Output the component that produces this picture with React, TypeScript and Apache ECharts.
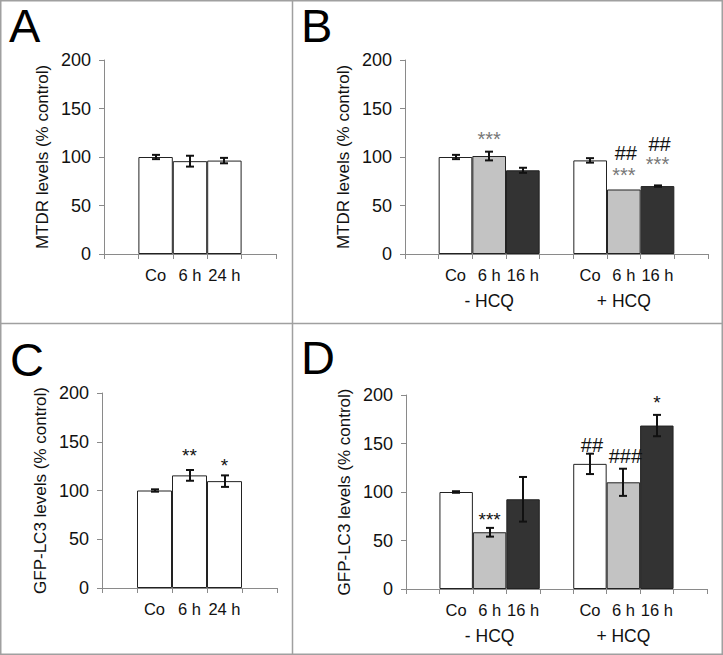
import React, { useEffect, useRef } from "react";
import * as echarts from "echarts";

// ---- categories / labels ----
const singleCats = ["", "Co", "6 h", "24 h", ""];
const groupCats = ["", "Co", "6 h", "16 h", "", "Co", "6 h", "16 h", ""];
const groupNames = ["", "", "- HCQ", "", "", "", "+ HCQ", "", ""];
const singleConds = ["", "co", "co", "co", ""];
const groupConds = ["", "co", "t6", "t16", "", "co", "t6", "t16", ""];
const yMin = 0;
const yMax = 200;
const yStep = 50;

// ---- values (mean, SD) ----
const mtdrSingleMean = [null, 100, 95.7, 96.3, null];
const mtdrSingleErr = [null, 2.2, 5.6, 2.8, null];
const mtdrHcqMean = [null, 100, 101, 86.3, null, 96.5, 66.5, 70, null];
const mtdrHcqErr = [null, 2.2, 4.5, 2.6, null, 2.3, 0, 0.7, null];
const lc3SingleMean = [null, 100, 115.5, 109.6, null];
const lc3SingleErr = [null, 1.2, 5.5, 5.9, null];
const lc3HcqMean = [null, 100, 58.5, 92.5, null, 129, 110, 168.5, null];
const lc3HcqErr = [null, 0.8, 4.5, 23, null, 10.5, 14, 11, null];

// ---- significance marks: [category, value, text] ----
const mtdrHcqMarks: [number, number, string][] = [
  [2, 119, "***"],
  [6, 104, "##"],
  [6, 81.4, "***"],
  [7, 113.4, "##"],
  [7, 92.8, "***"],
];
const lc3SingleMarks: [number, number, string][] = [
  [2, 135.8, "**"],
  [3, 125.5, "*"],
];
const lc3HcqMarks: [number, number, string][] = [
  [2, 71.6, "***"],
  [5, 148, "##"],
  [6, 136.8, "###"],
  [7, 192.5, "*"],
];

const FONT = "'Liberation Sans', Arial, Helvetica, sans-serif";
const condColor: Record<string, string> = { co: "#ffffff", t6: "#c3c3c3", t16: "#333333" };
const AXIS = "#8a8a8a";

type Panel = {
  letter: string;
  title: string;
  cats: string[];
  conds: string[];
  mean: (number | null)[];
  err: (number | null)[];
  marks: [number, number, string][];
  grid: { left: number; top: number; width: number; height: number };
  letterPos: [number, number];
  groups: boolean;
  grayStars: boolean;
};

const panels: Panel[] = [
  {
    letter: "A", title: "MTDR levels (% control)", cats: singleCats, conds: singleConds,
    mean: mtdrSingleMean, err: mtdrSingleErr, marks: [],
    grid: { left: 104, top: 60, width: 172, height: 194 }, letterPos: [9, 2], groups: false, grayStars: false,
  },
  {
    letter: "B", title: "MTDR levels (% control)", cats: groupCats, conds: groupConds,
    mean: mtdrHcqMean, err: mtdrHcqErr, marks: mtdrHcqMarks,
    grid: { left: 405, top: 60, width: 303, height: 194 }, letterPos: [301, 2], groups: true, grayStars: true,
  },
  {
    letter: "C", title: "GFP-LC3 levels (% control)", cats: singleCats, conds: singleConds,
    mean: lc3SingleMean, err: lc3SingleErr, marks: lc3SingleMarks,
    grid: { left: 102, top: 393, width: 175, height: 195 }, letterPos: [10, 336], groups: false, grayStars: false,
  },
  {
    letter: "D", title: "GFP-LC3 levels (% control)", cats: groupCats, conds: groupConds,
    mean: lc3HcqMean, err: lc3HcqErr, marks: lc3HcqMarks,
    grid: { left: 406, top: 395, width: 301, height: 194 }, letterPos: [301, 334], groups: true, grayStars: false,
  },
];

function buildOption() {
  const grid: any[] = [];
  const xAxis: any[] = [];
  const yAxis: any[] = [];
  const series: any[] = [];
  const graphic: any[] = [
    { type: "rect", shape: { x: 0.75, y: 0.75, width: 721.5, height: 653.5 }, style: { fill: "none", stroke: "#a0a0a0", lineWidth: 1.5 } },
    { type: "line", shape: { x1: 292.5, y1: 0, x2: 292.5, y2: 655 }, style: { stroke: "#a0a0a0", lineWidth: 1.5 } },
    { type: "line", shape: { x1: 0, y1: 323.5, x2: 723, y2: 323.5 }, style: { stroke: "#a0a0a0", lineWidth: 1.5 } },
  ];

  panels.forEach((p, gi) => {
    grid.push({ ...p.grid, containLabel: false });
    const xi = xAxis.length;
    xAxis.push({
      type: "category", gridIndex: gi, data: p.cats, boundaryGap: true,
      axisLine: { show: true, lineStyle: { color: AXIS, width: 1 } },
      axisTick: { show: true, length: 5, alignWithLabel: false, interval: 0, lineStyle: { color: AXIS } },
      axisLabel: { interval: 0, margin: 12, color: "#111", fontSize: 16.5, fontFamily: FONT },
      splitLine: { show: false },
    });
    if (p.groups) {
      xAxis.push({
        type: "category", gridIndex: gi, data: groupNames, position: "bottom", boundaryGap: true,
        axisLine: { show: false }, axisTick: { show: false },
        axisLabel: { interval: 0, margin: 38, color: "#111", fontSize: 17.5, fontFamily: FONT },
      });
    }
    const yi = yAxis.length;
    yAxis.push({
      type: "value", gridIndex: gi, min: yMin, max: yMax, interval: yStep,
      name: p.title, nameLocation: "middle", nameGap: 53, nameRotate: 90,
      nameTextStyle: { color: "#111", fontSize: 17, fontFamily: FONT },
      axisLine: { show: true, lineStyle: { color: AXIS, width: 1 } },
      axisTick: { show: true, length: 5, lineStyle: { color: AXIS } },
      axisLabel: { margin: 13, color: "#111", fontSize: 18, fontFamily: FONT },
      splitLine: { show: false },
    });

    series.push({
      type: "bar", xAxisIndex: xi, yAxisIndex: yi, barCategoryGap: "0%",
      data: p.mean.map((m, i) =>
        m == null ? null : { value: m, itemStyle: { color: condColor[p.conds[i]], borderColor: "#222", borderWidth: 1 } }
      ),
    });

    const errData = p.mean
      .map((m, i) => (m == null ? null : [i, m, p.err[i] ?? 0]))
      .filter((d) => d != null);
    series.push({
      type: "custom", xAxisIndex: xi, yAxisIndex: yi, z: 5,
      data: errData, encode: { x: 0, y: 1 },
      renderItem: (params: any, api: any) => {
        const x = api.value(0), m = api.value(1), e = api.value(2);
        if (!e) return null;
        const t = api.coord([x, m + e]);
        const b = api.coord([x, m - e]);
        const cx = Math.round(t[0]);
        const hw = 4;
        const st = { stroke: "#111", lineWidth: 2 };
        return {
          type: "group",
          children: [
            { type: "line", shape: { x1: cx, y1: t[1], x2: cx, y2: b[1] }, style: st },
            { type: "line", shape: { x1: cx - hw, y1: t[1], x2: cx + hw, y2: t[1] }, style: st },
            { type: "line", shape: { x1: cx - hw, y1: b[1], x2: cx + hw, y2: b[1] }, style: st },
          ],
        };
      },
    });

    if (p.marks.length) {
      const marks = p.marks;
      series.push({
        type: "custom", xAxisIndex: xi, yAxisIndex: yi, z: 6,
        data: marks.map((mk) => [mk[0], mk[1]]), encode: { x: 0, y: 1 },
        renderItem: (params: any, api: any) => {
          const mk = marks[params.dataIndex];
          const pt = api.coord([api.value(0), api.value(1)]);
          const isStar = mk[2].startsWith("*");
          const gray = isStar && p.grayStars;
          return {
            type: "text", x: pt[0] + (isStar ? 0 : 2), y: pt[1],
            style: {
              text: mk[2], align: "center", verticalAlign: "middle",
              fontSize: isStar ? (gray ? 20 : 19) : 20, fontFamily: FONT,
              fill: gray ? "#777" : "#111",
            },
          };
        },
      });
    }

    graphic.push({
      type: "text", x: p.letterPos[0], y: p.letterPos[1],
      style: { text: p.letter, fontSize: 47, fontFamily: FONT, fill: "#000", verticalAlign: "top" },
    });
  });

  return { animation: false, backgroundColor: "#fff", grid, xAxis, yAxis, series, graphic };
}

export default function App() {
  const ref = useRef<HTMLDivElement>(null);
  useEffect(() => {
    if (!ref.current) return;
    const chart = echarts.init(ref.current, undefined, { renderer: "svg" });
    chart.setOption(buildOption());
    return () => chart.dispose();
  }, []);
  return (
    <div
      ref={ref}
      style={{ position: "absolute", left: 0, top: 0, width: 723, height: 655, background: "#fff" }}
    />
  );
}
